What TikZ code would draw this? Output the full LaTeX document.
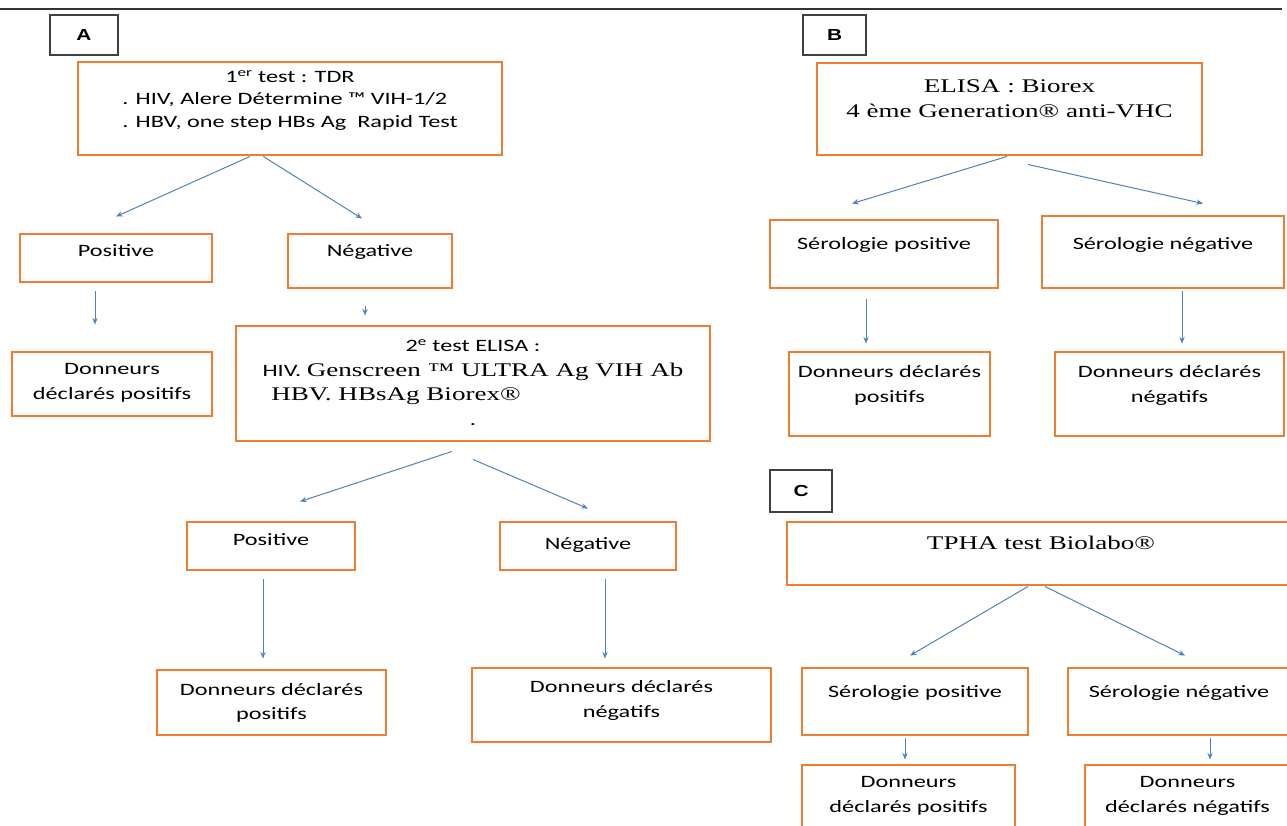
\documentclass[tikz,border=0pt]{standalone}
\usepackage{xcolor}
\usepackage{fontspec}
\setmainfont{Carlito}[FakeStretch=1.4]
\newfontfamily\tnr{Liberation Serif}[FakeStretch=1.4]
\newfontfamily\lbl{Liberation Sans}[FakeStretch=1.3]
\usepackage{tikz}
\usetikzlibrary{arrows.meta}

\definecolor{boxorange}{RGB}{237,125,49}
\definecolor{arrowblue}{RGB}{79,129,189}
\newcommand{\serif}{\tnr\fontsize{14.5}{17.4}\selectfont}
\newcommand{\boxtxt}[3][c]{\raisebox{\dimexpr #2-3pt\relax}[0pt][0pt]{\begin{tabular}{@{}#1@{}}#3\end{tabular}}}
\renewcommand{\arraystretch}{1.2}

\begin{document}
\begin{tikzpicture}[x=0.75pt, y=-0.75pt,
    font=\fontsize{13}{15.6}\selectfont,
    box/.style={draw=boxorange, line width=2.2pt, fill=white, inner sep=0pt},
    tag/.style={draw=black!75, line width=0.9pt, fill=white, inner sep=0pt, font=\lbl\bfseries\fontsize{12}{14}\selectfont},
    arr/.style={draw=arrowblue, line width=0.75pt, -{Stealth[length=5pt,width=4pt]}}]
        \useasboundingbox (0,0) rectangle (1287,825);
        \draw[black!80, line width=0.8pt] (0,9) -- (1282,9);

        % Panel A
        \node[tag, minimum width=51pt, minimum height=30pt] (lblA) at (84,35) {A};
        \node[box, minimum width=318pt, minimum height=69.75pt] (tdr) at (290,108.5)
            {\boxtxt[l]{6.4pt}{\multicolumn{1}{@{}c@{}}{1\textsuperscript{er} test : TDR}\\[-2pt]
             . HIV, Alere Détermine ™ VIH-1/2\\[-2pt]
             . HBV, one step HBs Ag\ \ Rapid Test}};
        \node[box, minimum width=144pt, minimum height=36pt] (posA) at (116,258) {\boxtxt{4.5pt}{Positive}};
        \node[box, minimum width=123pt, minimum height=40.5pt] (negA) at (370,261) {\boxtxt{6.75pt}{Négative}};
        \node[box, minimum width=150pt, minimum height=48pt] (donA1) at (112,384) {\boxtxt{1.5pt}{Donneurs\\déclarés positifs}};
        \node[box, minimum width=355.5pt, minimum height=86.25pt] (elisaA) at (473,383.5)
            {\boxtxt[l]{0pt}{\multicolumn{1}{@{}c@{}}{2\textsuperscript{e} test ELISA :}\\
             HIV. {\serif Genscreen ™ ULTRA Ag VIH Ab}\\
             \hspace{0.5em}{\serif HBV. HBsAg Biorex®}\\
             \multicolumn{1}{@{}c@{}}{.}}};
        \node[box, minimum width=126pt, minimum height=36pt] (posA2) at (271,546) {\boxtxt{4.5pt}{Positive}};
        \node[box, minimum width=132pt, minimum height=36pt] (negA2) at (588,546) {\boxtxt{1.5pt}{Négative}};
        \node[box, minimum width=171.75pt, minimum height=48.75pt] (donA2) at (271.5,702.5) {\boxtxt{0pt}{Donneurs déclarés\\positifs}};
        \node[box, minimum width=224.25pt, minimum height=55.5pt] (donA3) at (621.5,705) {\boxtxt{3.75pt}{Donneurs déclarés\\négatifs}};

        \draw[arr] ([xshift=-30pt]tdr.south) -- ([yshift=12pt]posA.north);
        \draw[arr] ([xshift=-20pt]tdr.south) -- ([xshift=-6pt,yshift=10.5pt]negA.north);
        \draw[arr] ([xshift=-15.75pt,yshift=-6pt]posA.south) -- ([xshift=-12.75pt,yshift=19.5pt]donA1.north);
        \draw[arr] ([xshift=-3.75pt,yshift=-12.75pt]negA.south) -- ([xshift=-81pt,yshift=6.75pt]elisaA.north);
        \draw[arr] ([xshift=-15.75pt,yshift=-6.75pt]elisaA.south) -- ([xshift=21.75pt,yshift=14.25pt]posA2.north);
        \draw[arr] ([yshift=-12.75pt]elisaA.south) -- ([yshift=9pt]negA2.north);
        \draw[arr] ([xshift=-6pt,yshift=-6pt]posA2.south) -- ([xshift=-6.375pt,yshift=7.5pt]donA2.north);
        \draw[arr] ([xshift=12.75pt,yshift=-6pt]negA2.south) -- ([xshift=-12.375pt,yshift=6pt]donA3.north);

        % Panel B
        \node[tag, minimum width=47.25pt, minimum height=30pt] (lblB) at (834.5,35) {B};
        \node[box, minimum width=288.75pt, minimum height=69pt] (elisaB) at (1009.5,109)
            {\boxtxt{6.75pt}{\serif ELISA : Biorex\\ \serif 4 ème Generation® anti-VHC}};
        \node[box, minimum width=171pt, minimum height=51pt] (posB) at (884,254) {\boxtxt{6.75pt}{Sérologie positive}};
        \node[box, minimum width=181.5pt, minimum height=54pt] (negB) at (1163,252) {\boxtxt{5.25pt}{Sérologie négative}};
        \node[box, minimum width=150.75pt, minimum height=63pt] (donB1) at (889.5,394) {\boxtxt{6.4pt}{Donneurs déclarés\\positifs}};
        \node[box, minimum width=171.75pt, minimum height=63pt] (donB2) at (1169.5,394) {\boxtxt{6.4pt}{Donneurs déclarés\\négatifs}};

        \draw[arr] ([xshift=-1.875pt]elisaB.south) -- ([xshift=-24pt,yshift=11.25pt]posB.north);
        \draw[arr] ([xshift=13.875pt,yshift=-6pt]elisaB.south) -- ([xshift=30pt,yshift=8.25pt]negB.north);
        \draw[arr] ([xshift=-13.5pt,yshift=-7.5pt]posB.south) -- ([xshift=-17.625pt,yshift=5.25pt]donB1.north);
        \draw[arr] ([xshift=14.25pt,yshift=-1.5pt]negB.south) -- ([xshift=9.375pt,yshift=5.25pt]donB2.north);

        % Panel C
        \node[tag, minimum width=46.5pt, minimum height=31.5pt] (lblC) at (801,491) {C};
        \node[box, minimum width=381pt, minimum height=47.25pt] (tpha) at (1041,553.5) {\boxtxt{6.4pt}{\serif TPHA test Biolabo®}};
        \node[box, minimum width=169.5pt, minimum height=50.25pt] (posC) at (915,701.5) {\boxtxt{7pt}{Sérologie positive}};
        \node[box, minimum width=166.5pt, minimum height=50.25pt] (negC) at (1179,701.5) {\boxtxt{7pt}{Sérologie négative}};
        \node[box, minimum width=159.75pt, minimum height=52.5pt] (donC1) at (908.5,800) {\boxtxt{3.75pt}{Donneurs\\déclarés positifs}};
        \node[box, minimum width=153.75pt, minimum height=52.5pt] (donC2) at (1187.5,800) {\boxtxt{3.75pt}{Donneurs\\déclarés négatifs}};

        \draw[arr] ([xshift=-9.75pt]tpha.south) -- ([xshift=-3.75pt,yshift=8.25pt]posC.north);
        \draw[arr] ([xshift=3pt]tpha.south) -- ([xshift=4.5pt,yshift=8.25pt]negC.north);
        \draw[arr] ([xshift=-7.5pt,yshift=-1.5pt]posC.south) -- ([xshift=-2.625pt,yshift=3pt]donC1.north);
        \draw[arr] ([xshift=23.25pt,yshift=-1.5pt]negC.south) -- ([xshift=16.875pt,yshift=3pt]donC2.north);
\end{tikzpicture}
\end{document}
